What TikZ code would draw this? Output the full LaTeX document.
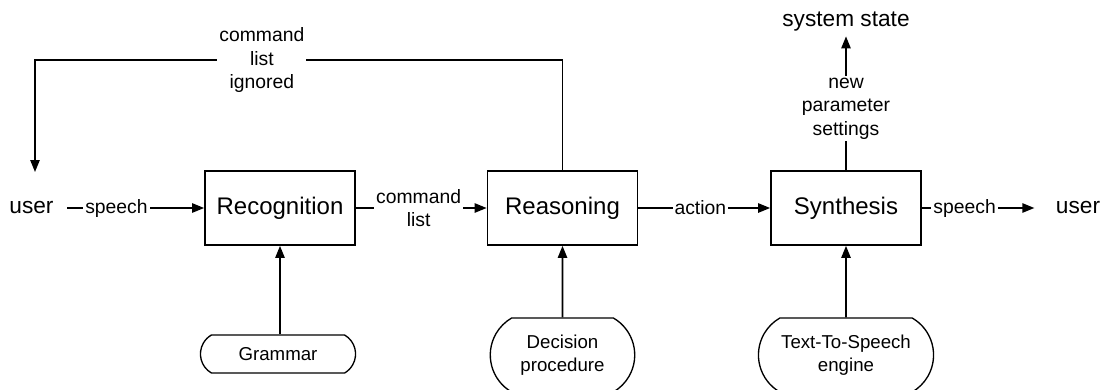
\documentclass[tikz,border=0pt]{standalone}
\usepackage{fontspec}
\setmainfont{Liberation Sans}
\usetikzlibrary{arrows.meta,shapes.misc}
\begin{document}
\begin{tikzpicture}[x=0.75pt,y=0.75pt,yscale=-1,xscale=1,
  block/.style={draw,line width=1.3pt,minimum width=112.5pt,minimum height=55.5pt,font=\fontsize{18}{21}\selectfont},
  store/.style={draw,line width=1pt,rounded rectangle,rounded rectangle arc length=120,align=center,font=\fontsize{14}{17.5}\selectfont},
  flow/.style={line width=1.2pt,-{Triangle[length=9pt,width=7pt]}},
  lbl/.style={fill=white,inner sep=1.5pt,align=center,font=\fontsize{14.5}{17.5}\selectfont},
  ext/.style={font=\fontsize{17}{20}\selectfont}]
\useasboundingbox (0,0) rectangle (1102,389);

% Blocks
\node[block] (recog) at (280,208) {Recognition};
\node[block] (reason) at (562.5,208) {Reasoning};
\node[block] (synth) at (846,208) {Synthesis};

% Knowledge sources
\node[store,minimum width=123pt,minimum height=28.5pt] (gram) at (278,354) {Grammar};
\node[store,minimum width=115pt,minimum height=55.5pt] (decis) at (562.5,355) {Decision\\procedure};
\node[store,minimum width=138pt,minimum height=55.5pt] (tts) at (846,355) {Text-To-Speech\\engine};

% Outside
\node[ext,inner xsep=10pt] (userin) at (31.5,208) {user};
\node[ext,inner xsep=16pt] (userout) at (1078,208) {user};
\node[ext] (sysstate) at (846,22) {system state};
\coordinate (fbtip) at (35,172);

% Main chain
\draw[flow] (userin) -- node[lbl,pos=0.36] {speech} (recog);
\draw[flow] (recog) -- node[lbl,pos=0.48] {command\\list} (reason);
\draw[flow] (reason) -- node[lbl,pos=0.47] {action} (synth);
\draw[flow] (synth) -- node[lbl,pos=0.38] {speech} (userout);

% Inputs from below
\draw[flow] (gram.north -| recog) -- (recog);
\draw[flow] (decis) -- (reason);
\draw[flow] (tts) -- (synth);

% Feedback and state
\draw[flow] (reason.north) -- ++(0,-110) -| node[lbl,pos=0.285] {command\\list\\ignored} (fbtip);
\draw[flow] (synth) -- node[lbl,pos=0.46] {new\\parameter\\settings} (sysstate);
\end{tikzpicture}
\end{document}
